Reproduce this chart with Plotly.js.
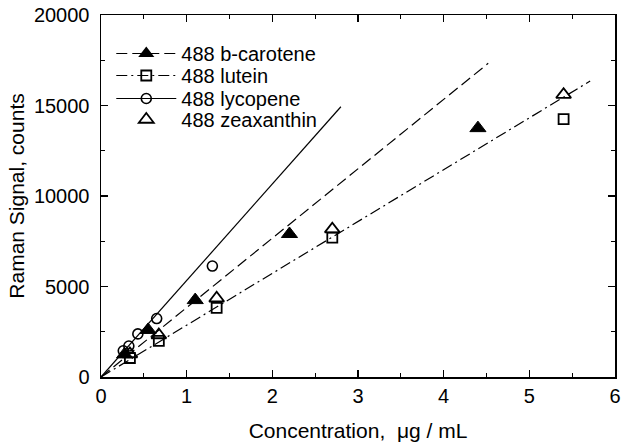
<!DOCTYPE html>
<html>
<head>
<meta charset="utf-8">
<script src="https://cdn.plot.ly/plotly-3.0.1.min.js"></script>
<style>html,body{margin:0;padding:0;background:#fff;}#chart{width:629px;height:447px;}</style>
</head>
<body>
<div id="chart"></div>
<script>
// Measured data (concentration in ug/mL, Raman signal counts)
const betaCaroteneX = [0.275, 0.55, 1.1, 2.2, 4.4];
const betaCaroteneY = [1250, 2600, 4250, 7900, 13750];
const luteinX = [0.3375, 0.675, 1.35, 2.7, 5.4];
const luteinY = [1050, 2000, 3820, 7700, 14250];
const lycopeneX = [0.26, 0.325, 0.43, 0.65, 1.3];
const lycopeneY = [1450, 1710, 2380, 3230, 6130];
const zeaxanthinX = [0.3375, 0.675, 1.35, 2.7, 5.4];
const zeaxanthinY = [1270, 2320, 4350, 8170, 15600];

// Fit line endpoints
const fitBetaX = [0, 4.52];
const fitBetaY = [0, 17330];
const fitLuteinX = [0, 5.71];
const fitLuteinY = [0, 16350];
const fitLycopeneX = [0, 2.80];
const fitLycopeneY = [0, 14930];

const legendNames = ['488 b-carotene', '488 lutein', '488 lycopene', '488 zeaxanthin'];
const xTickVals = [0, 1, 2, 3, 4, 5, 6];
const yTickVals = [0, 5000, 10000, 15000, 20000];

const black = '#000';
const dashLong = '11px,5px';
const dashDot = '11px,4px,2px,4px';

const traces = [
  // fit lines
  {x: fitBetaX, y: fitBetaY, mode: 'lines', line: {color: black, width: 1.2, dash: dashLong}, showlegend: false, hoverinfo: 'skip'},
  {x: fitLuteinX, y: fitLuteinY, mode: 'lines', line: {color: black, width: 1.2, dash: dashDot}, showlegend: false, hoverinfo: 'skip'},
  {x: fitLycopeneX, y: fitLycopeneY, mode: 'lines', line: {color: black, width: 1.2}, showlegend: false, hoverinfo: 'skip'},
  // data points
  {x: betaCaroteneX, y: betaCaroteneY, mode: 'markers', showlegend: false,
   marker: {symbol: 'triangle-up', size: 14, color: black, line: {color: black, width: 1}}},
  {x: luteinX, y: luteinY, mode: 'markers', showlegend: false,
   marker: {symbol: 'square-open', size: 10, color: black, line: {color: black, width: 1.8}}},
  {x: lycopeneX, y: lycopeneY, mode: 'markers', showlegend: false,
   marker: {symbol: 'circle-open', size: 10, color: black, line: {color: black, width: 1.6}}},
  {x: zeaxanthinX, y: zeaxanthinY, mode: 'markers', showlegend: false,
   marker: {symbol: 'triangle-up-open', size: 13, color: black, line: {color: black, width: 1.8}}},
  // legend entries
  {x: [null], y: [null], name: legendNames[0], mode: 'lines+markers', legend: 'legend',
   line: {color: black, width: 1.2, dash: dashLong},
   marker: {symbol: 'triangle-up', size: 14, color: black}},
  {x: [null], y: [null], name: legendNames[1], mode: 'lines+markers', legend: 'legend2',
   line: {color: black, width: 1.2, dash: dashDot},
   marker: {symbol: 'square-open', size: 10, color: black, line: {width: 1.8}}},
  {x: [null], y: [null], name: legendNames[2], mode: 'lines+markers', legend: 'legend3',
   line: {color: black, width: 1.2},
   marker: {symbol: 'circle-open', size: 10, color: black, line: {width: 1.6}}},
  {x: [null], y: [null], name: legendNames[3], mode: 'markers', legend: 'legend4',
   marker: {symbol: 'triangle-up-open', size: 13, color: black, line: {width: 1.8}}}
];

const font = {family: '"Liberation Sans", Arial, sans-serif', color: black};

function legendAt(y) {
  return {
    x: 0.02, y: y, xanchor: 'left', yanchor: 'top',
    bgcolor: 'rgba(0,0,0,0)', borderwidth: 0,
    font: {family: font.family, size: 20, color: black},
    itemwidth: 60
  };
}

const layout = {
  width: 629, height: 447,
  margin: {l: 101, r: 14, t: 15, b: 70},
  paper_bgcolor: '#fff', plot_bgcolor: '#fff',
  font: font,
  showlegend: true,
  legend: legendAt(0.9475),
  legend2: legendAt(0.8867),
  legend3: legendAt(0.8232),
  legend4: legendAt(0.7652),
  xaxis: {
    range: [0, 6], tickvals: xTickVals, ticktext: xTickVals.map(String),
    showgrid: false, zeroline: false, showline: true, linecolor: black, linewidth: 1.5,
    mirror: 'ticks', ticks: 'inside', ticklen: 7, tickwidth: 1.2, tickcolor: black,
    minor: {dtick: 0.5, ticks: 'inside', ticklen: 4, tickwidth: 1.2, tickcolor: black, showgrid: false},
    tickfont: {family: font.family, size: 20, color: black},
    title: {text: 'Concentration,\u00a0 μg / mL', font: {family: font.family, size: 21, color: black}, standoff: 18}
  },
  yaxis: {
    range: [0, 20000], tickvals: yTickVals, ticktext: yTickVals.map(String),
    showgrid: false, zeroline: false, showline: true, linecolor: black, linewidth: 1.5,
    mirror: 'ticks', ticks: 'inside', ticklen: 7, tickwidth: 1.2, tickcolor: black,
    minor: {dtick: 2500, ticks: 'inside', ticklen: 4, tickwidth: 1.2, tickcolor: black, showgrid: false},
    tickfont: {family: font.family, size: 20, color: black},
    ticklabelstandoff: 6,
    title: {text: 'Raman Signal, counts', font: {family: font.family, size: 21, color: black}, standoff: 3}
  }
};

Plotly.newPlot('chart', traces, layout, {displayModeBar: false, staticPlot: true});
</script>
</body>
</html>
